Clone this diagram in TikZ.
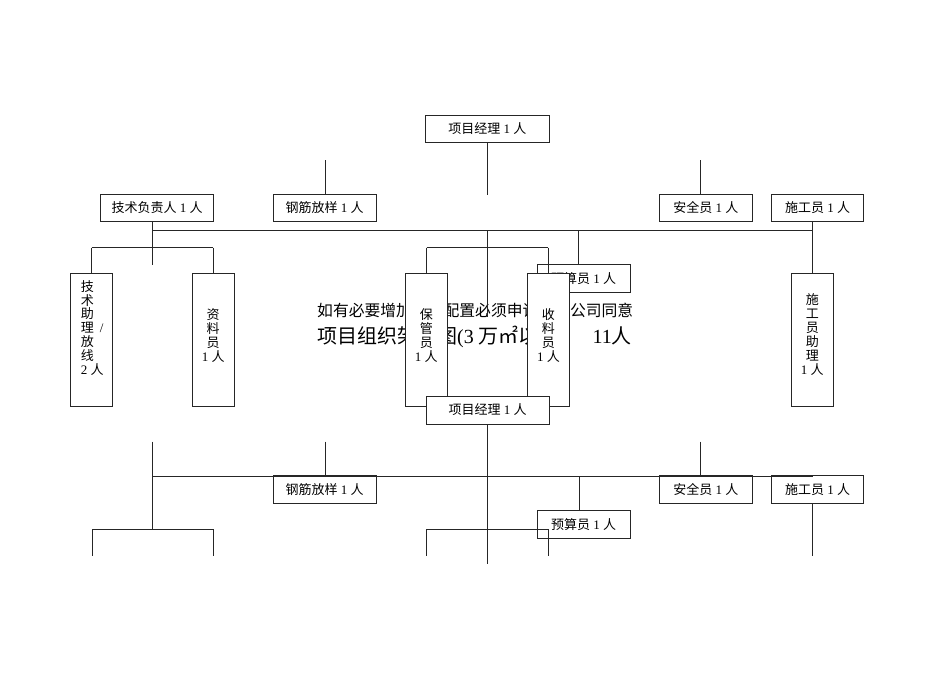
\documentclass[tikz,border=0pt]{standalone}
\usepackage{fontspec}
\setmainfont{Liberation Serif}
\newfontfamily\cjk{Noto Sans CJK SC}
\newcommand\zh[1]{{\cjk #1}}
\newcommand\boxfont{\fontsize{13}{13.9}\selectfont}
\begin{document}
\begin{tikzpicture}[x=1pt,y=-1pt,
  ln/.style={draw=black!85,line width=0.8pt},
  box/.style={draw=black!85,line width=0.8pt,fill=white,inner sep=0pt,font=\boxfont,minimum height=27.7pt},
  vbox/.style={draw=black!85,line width=0.8pt,fill=white,inner sep=0pt,minimum width=41.8pt,minimum height=133pt},
  vtext/.style={font=\boxfont,inner sep=0pt},
  bigtext/.style={inner sep=0pt,anchor=west}]
\useasboundingbox (0,0) rectangle (950,672);

% ---------- centre texts ----------
\node[bigtext,font=\fontsize{15.8}{18}\selectfont] (note) at (317,310) {\zh{如有必要增加人员配置必须申请并经公司同意}};
\node[bigtext,font=\fontsize{20}{22}\selectfont] (title) at (317,336.7) {\zh{项目组织架构图}(3 \zh{万㎡以下})\hspace{27pt}11\zh{人}};

% ---------- top part ----------
\node[box,minimum width=123.3pt] (pm1) at (487.35,128.85) {\zh{项目经理} 1 \zh{人}};
\node[box,minimum width=113pt] (tech) at (157.2,208) {\zh{技术负责人} 1 \zh{人}};
\node[box,minimum width=102.7pt] (rebar1) at (324.65,208) {\zh{钢筋放样} 1 \zh{人}};
\node[box,minimum width=93pt] (safety1) at (705.8,208) {\zh{安全员} 1 \zh{人}};
\node[box,minimum width=92.4pt] (constr1) at (817.5,208) {\zh{施工员} 1 \zh{人}};
\node[box,minimum width=92.7pt,minimum height=28pt] (budget1) at (583.65,278.3) {\zh{预算员} 1 \zh{人}};

\coordinate (pm1end) at (487.7,194.7);
\coordinate (rebtop1) at (325,160);
\coordinate (saftop1) at (700.3,160);
\coordinate (hL1) at (152,230.3);
\coordinate (hR1) at (812.7,230.3);
\coordinate (techend) at (152,265);
\coordinate (midend) at (487.7,317);
\coordinate (budx1) at (578.7,230.3);
\coordinate (brLa1) at (91.7,247.7);
\coordinate (brLb1) at (213.3,247.7);
\coordinate (brMa1) at (426.7,247.7);
\coordinate (brMb1) at (548.3,247.7);

\node[vbox] (asst) at (91.3,339.8) {};
\node[vbox] (docs) at (213.15,339.8) {};
\node[vbox] (constrasst) at (812.3,339.8) {};

\draw[ln] (pm1end |- pm1.south) -- (pm1end);
\draw[ln] (rebtop1) -- (rebtop1 |- rebar1.north);
\draw[ln] (saftop1) -- (saftop1 |- safety1.north);
\draw[ln] (hL1 |- tech.south) -- (techend);
\draw[ln] (hL1) -- (hR1);
\draw[ln] (hR1 |- constr1.south) -- (hR1 |- constrasst.north);
\draw[ln] (brLa1) -- (brLb1);
\draw[ln] (brLa1) -- (brLa1 |- asst.north);
\draw[ln] (brLb1) -- (brLb1 |- docs.north);
\draw[ln] (midend |- hL1) -- (midend);
\draw[ln] (brMa1) -- (brMb1);
\draw[ln] (budx1) -- (budx1 |- budget1.north);

\node[vbox] (keeper) at (426.35,339.8) {};
\node[vbox] (recv) at (548.4,339.8) {};
\draw[ln] (brMa1) -- (brMa1 |- keeper.north);
\draw[ln] (brMb1) -- (brMb1 |- recv.north);

\node[vtext,align=left] (assttext) at (92.3,327.9) {\zh{技}\\\zh{术}\\\zh{助}\\\zh{理}\hspace{6pt}/\\\zh{放}\\\zh{线}\\2 \zh{人}};
\node[vtext,align=center] (docstext) at (213.15,335.5) {\zh{资}\\\zh{料}\\\zh{员}\\1 \zh{人}};
\node[vtext,align=center] (keepertext) at (426.35,335.8) {\zh{保}\\\zh{管}\\\zh{员}\\1 \zh{人}};
\node[vtext,align=center] (recvtext) at (548.4,335.8) {\zh{收}\\\zh{料}\\\zh{员}\\1 \zh{人}};
\node[vtext,align=center] (constrassttext) at (812.3,334.7) {\zh{施}\\\zh{工}\\\zh{员}\\\zh{助}\\\zh{理}\\1 \zh{人}};

% ---------- middle manager box ----------
\node[box,minimum width=123pt,minimum height=28pt] (pm2) at (487.5,410) {\zh{项目经理} 1 \zh{人}};

% ---------- bottom part ----------
\node[box,minimum width=102.7pt] (rebar2) at (324.65,489.5) {\zh{钢筋放样} 1 \zh{人}};
\node[box,minimum width=93pt] (safety2) at (705.8,489.5) {\zh{安全员} 1 \zh{人}};
\node[box,minimum width=92.4pt] (constr2) at (817.5,489.5) {\zh{施工员} 1 \zh{人}};
\node[box,minimum width=92.7pt] (budget2) at (583.65,524.65) {\zh{预算员} 1 \zh{人}};

\coordinate (techtop2) at (152,441.7);
\coordinate (brLa2) at (92,529);
\coordinate (brLb2) at (213,529);
\coordinate (rebtop2) at (325,441.7);
\coordinate (saftop2) at (700.7,441.7);
\coordinate (hL2) at (152,476.3);
\coordinate (hR2) at (812.7,476.3);
\coordinate (pm2end) at (487.7,564.3);
\coordinate (budx2) at (579,476.3);
\coordinate (brMa2) at (426.3,529.3);
\coordinate (brMb2) at (548.3,529.3);
\coordinate (constrend2) at (812.7,555.7);

\draw[ln] (techtop2) -- (hL2 |- brLa2);
\draw[ln] (brLa2) -- (brLb2);
\draw[ln] (brLa2) -- ++(0,26.7);
\draw[ln] (brLb2) -- ++(0,26.7);
\draw[ln] (rebtop2) -- (rebtop2 |- rebar2.north);
\draw[ln] (hL2) -- (hR2);
\draw[ln] (saftop2) -- (saftop2 |- safety2.north);
\draw[ln] (pm2end |- pm2.south) -- (pm2end);
\draw[ln] (budx2) -- (budx2 |- budget2.north);
\draw[ln] (constrend2 |- constr2.south) -- (constrend2);
\draw[ln] (brMa2) -- (brMb2);
\draw[ln] (brMa2) -- ++(0,26.4);
\draw[ln] (brMb2) -- ++(0,26.4);
\end{tikzpicture}
\end{document}
